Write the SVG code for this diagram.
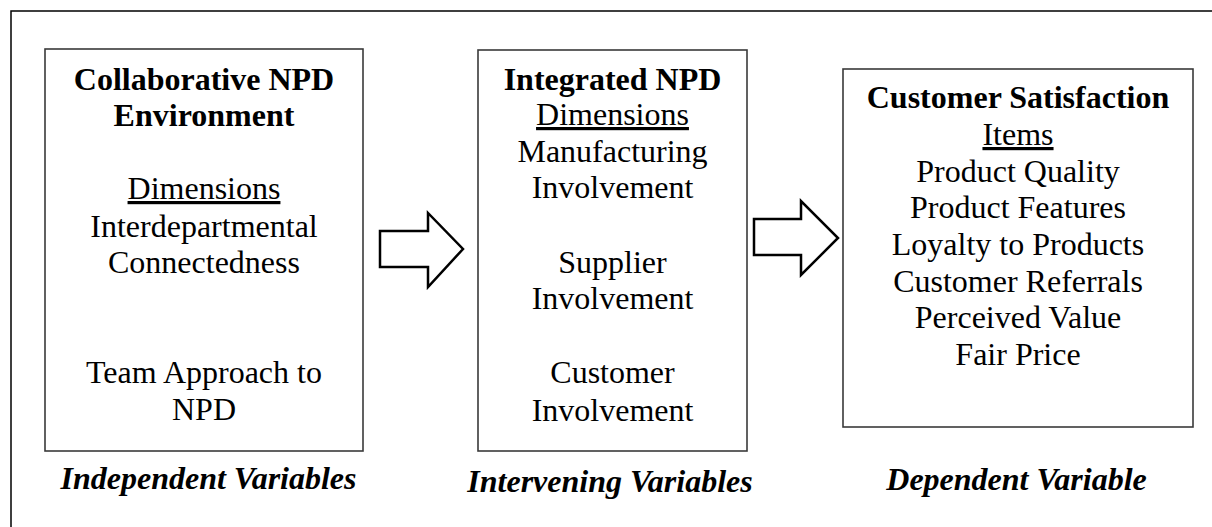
<svg xmlns="http://www.w3.org/2000/svg" width="1212" height="527" viewBox="0 0 1212 527">
<style>
.frame{fill:none;stroke:#000;stroke-width:1.5}
.box{fill:#fff;stroke:#3a3a3a;stroke-width:1.6}
.arrow{fill:#fff;stroke:#000;stroke-width:2.5;stroke-linejoin:miter}
text{font-family:"Liberation Serif","Times New Roman",serif;font-size:32px;fill:#000;text-anchor:middle}
.b{font-weight:bold}
.u{text-decoration:underline}
.lbl{font-weight:bold;font-style:italic}
</style>
<rect width="1212" height="527" fill="#fff"/>
<rect class="frame" x="11" y="11" width="1215" height="530"/>
<g id="node-collaborative">
<rect class="box" x="45" y="49" width="318" height="402"/>
<text class="b" x="204" y="90">Collaborative NPD</text>
<text class="b" x="204" y="126">Environment</text>
<text class="u" x="204" y="199">Dimensions</text>
<text x="204" y="237">Interdepartmental</text>
<text x="204" y="273">Connectedness</text>
<text x="204" y="383">Team Approach to</text>
<text x="204" y="420">NPD</text>
</g>
<g id="node-integrated">
<rect class="box" x="478" y="50" width="269" height="401"/>
<text class="b" x="612.5" y="90">Integrated NPD</text>
<text class="u" x="612.5" y="125">Dimensions</text>
<text x="612.5" y="162">Manufacturing</text>
<text x="612.5" y="198">Involvement</text>
<text x="612.5" y="273">Supplier</text>
<text x="612.5" y="309">Involvement</text>
<text x="612.5" y="383">Customer</text>
<text x="612.5" y="421">Involvement</text>
</g>
<g id="node-satisfaction">
<rect class="box" x="843" y="69" width="350" height="358"/>
<text class="b" x="1018" y="108">Customer Satisfaction</text>
<text class="u" x="1018" y="145">Items</text>
<text x="1018" y="182">Product Quality</text>
<text x="1018" y="218">Product Features</text>
<text x="1018" y="255">Loyalty to Products</text>
<text x="1018" y="292">Customer Referrals</text>
<text x="1018" y="328">Perceived Value</text>
<text x="1018" y="365">Fair Price</text>
</g>
<g id="connectors">
<polygon class="arrow" points="380,231 428,231 428,213 463,249 428,287 428,267 380,267"/>
<polygon class="arrow" points="754,219 801,219 801,201 838,238 801,275 801,255 754,255"/>
</g>
<g id="labels">
<text class="lbl" x="208.5" y="489">Independent Variables</text>
<text class="lbl" x="610" y="492">Intervening Variables</text>
<text class="lbl" x="1016.5" y="490">Dependent Variable</text>
</g>
</svg>
